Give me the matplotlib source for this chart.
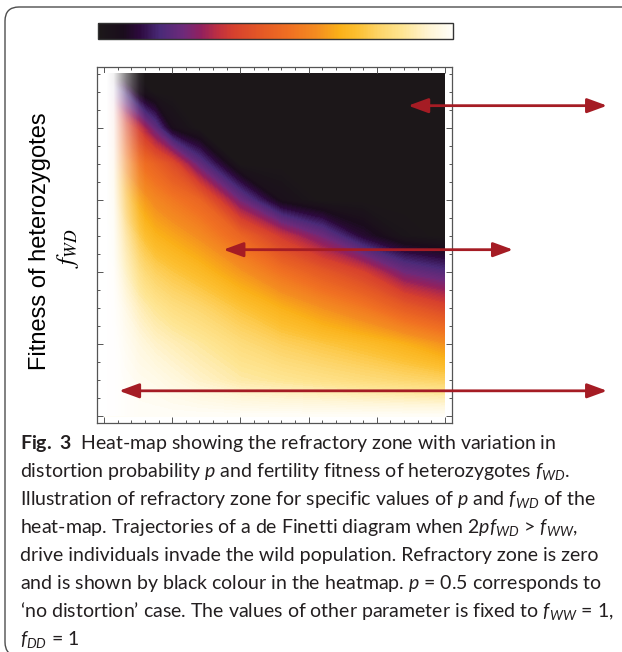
import numpy as np
import matplotlib
matplotlib.use('Agg')
import matplotlib.pyplot as plt
from matplotlib import font_manager as fm
from matplotlib.colors import LinearSegmentedColormap, Normalize
from matplotlib.cm import ScalarMappable
from matplotlib.patches import FancyBboxPatch


def pick_font(names):
    # first installed family from the list
    for n in names:
        try:
            fm.findfont(fm.FontProperties(family=n), fallback_to_default=False)
            return n
        except ValueError:
            pass
    return 'DejaVu Sans'


CAP_FONT = pick_font(['Liberation Sans Narrow', 'Lato', 'Open Sans'])
LABEL_FONT = pick_font(['Liberation Sans', 'DejaVu Sans'])

plt.rcParams['mathtext.fontset'] = 'custom'
plt.rcParams['mathtext.rm'] = CAP_FONT
plt.rcParams['mathtext.it'] = CAP_FONT + ':italic'
plt.rcParams['mathtext.bf'] = CAP_FONT + ':bold'

# distortion probability p (columns) and fitness of heterozygotes f_WD (rows)
p_vals = [0.0, 0.015, 0.03, 0.05, 0.075, 0.1, 0.14, 0.2, 0.26, 0.32, 0.38, 0.44, 0.5]
f_vals = [0.0, 0.5, 1.0, 1.5, 2.0, 2.5, 3.0, 3.5, 4.0, 4.5, 4.76]

# colour level read from the heat-map (0 = black / refractory zone, 1 = white)
zone = [
    [1.00, 1.00, 1.00, 1.00, 1.00, 1.00, 1.00, 1.00, 1.00, 1.00, 1.00, 1.00, 1.00],
    [1.00, 1.00, 0.99, 0.98, 0.97, 0.95, 0.92, 0.88, 0.86, 0.84, 0.82, 0.80, 0.78],
    [1.00, 0.99, 0.97, 0.95, 0.92, 0.90, 0.87, 0.82, 0.78, 0.75, 0.72, 0.68, 0.62],
    [0.97, 0.95, 0.93, 0.90, 0.86, 0.83, 0.80, 0.74, 0.68, 0.62, 0.56, 0.47, 0.40],
    [0.92, 0.90, 0.87, 0.83, 0.78, 0.75, 0.71, 0.63, 0.54, 0.46, 0.38, 0.24, 0.19],
    [0.86, 0.83, 0.79, 0.75, 0.69, 0.66, 0.61, 0.50, 0.36, 0.24, 0.10, 0.02, 0.00],
    [0.78, 0.75, 0.70, 0.66, 0.60, 0.56, 0.50, 0.24, 0.05, 0.00, 0.00, 0.00, 0.00],
    [0.66, 0.64, 0.60, 0.55, 0.49, 0.42, 0.22, 0.00, 0.00, 0.00, 0.00, 0.00, 0.00],
    [0.50, 0.48, 0.42, 0.36, 0.22, 0.06, 0.00, 0.00, 0.00, 0.00, 0.00, 0.00, 0.00],
    [0.25, 0.22, 0.16, 0.06, 0.00, 0.00, 0.00, 0.00, 0.00, 0.00, 0.00, 0.00, 0.00],
    [0.00, 0.00, 0.00, 0.00, 0.00, 0.00, 0.00, 0.00, 0.00, 0.00, 0.00, 0.00, 0.00],
]

# white wash along the p = 0 edge
fade_alpha = [1.0, 0.95, 0.7, 0.45, 0.25, 0.08, 0.0]

# arrows: tip inside the map (p, f_WD) and far end (axes fraction)
arrow_p = [0.446, 0.175, 0.022]
arrow_f = [4.31, 2.31, 0.35]
arrow_end = [1.437, 1.172, 1.437]

caption_lines = [
    r"$\mathbf{Fig.\ 3}$  Heat-map showing the refractory zone with variation in",
    r"distortion probability $p$ and fertility fitness of heterozygotes $f_{WD}$.",
    r"Illustration of refractory zone for specific values of $p$ and $f_{WD}$ of the",
    r"heat-map. Trajectories of a de Finetti diagram when 2$pf_{WD}$ > $f_{WW}$,",
    r"drive individuals invade the wild population. Refractory zone is zero",
    r"and is shown by black colour in the heatmap. $p$ = 0.5 corresponds to",
    r"‘no distortion’ case. The values of other parameter is fixed to $f_{WW}$ = 1,",
    r"$f_{DD}$ = 1",
]

cmap_pos = [0, 0.07, 0.117, 0.174, 0.24, 0.29, 0.34, 0.38, 0.465, 0.54,
            0.616, 0.68, 0.73, 0.795, 0.86, 0.93, 1.0]
cmap_col = ['#1c1819', '#1a0c1c', '#2d0a3e', '#4a2a78', '#6e2a7a', '#92205e',
            '#c0303f', '#d6402e', '#e55a25', '#f07022', '#f48c20', '#fab018',
            '#fcbf30', '#fdd56a', '#fee593', '#fff4d2', '#fffef8']
sunset = LinearSegmentedColormap.from_list('sunset', list(zip(cmap_pos, cmap_col)))

RED = '#a51c24'
GREY = '#555555'

W, H = 622, 652
fig = plt.figure(figsize=(W / 100, H / 100), dpi=100)

# heat-map
ax = fig.add_axes([97 / W, 1 - 423 / H, 355 / W, 356 / H])
ax.contourf(p_vals, f_vals, zone, levels=np.linspace(0, 1, 121), cmap=sunset, zorder=1)
fade = np.ones((1, len(fade_alpha), 4))
fade[0, :, 3] = fade_alpha
ax.imshow(fade, extent=[0, 0.065, 0, f_vals[-1]], aspect='auto', interpolation='bilinear', zorder=2)
ax.set_xlim(-0.0103, 0.5103)
ax.set_ylim(-0.097, 4.847)
ax.set_xticks(np.arange(0, 0.51, 0.1))
ax.set_xticks(np.arange(0, 0.51, 0.02), minor=True)
ax.set_yticks(np.arange(0, 4.8, 1))
ax.set_yticks(np.arange(0, 4.8, 0.25), minor=True)
ax.tick_params(which='both', direction='in', top=True, right=True, color=GREY, width=0.7,
               labelbottom=False, labelleft=False)
ax.tick_params(which='major', length=4.5)
ax.tick_params(which='minor', length=2.5)
for s in ax.spines.values():
    s.set_color(GREY)
    s.set_linewidth(0.9)

for p, f, e in zip(arrow_p, arrow_f, arrow_end):
    ax.annotate('', xy=(p, f), xycoords='data', xytext=(e, f), textcoords=('axes fraction', 'data'),
                annotation_clip=False,
                arrowprops=dict(arrowstyle='<|-|>,head_length=0.6,head_width=0.22', color=RED,
                                lw=2.0, shrinkA=0, shrinkB=0, mutation_scale=20, clip_on=False))

# colour bar on top
cax = fig.add_axes([98 / W, 1 - 39 / H, 355 / W, 16 / H])
cb = fig.colorbar(ScalarMappable(norm=Normalize(0, 1), cmap=sunset), cax=cax,
                  orientation='horizontal', ticks=[])
cb.outline.set_edgecolor('#333333')
cb.outline.set_linewidth(1.0)

# axis label
fig.text(40 / W, 1 - 241 / H, 'Fitness of heterozygotes', rotation=90, ha='center', va='center',
         fontsize=17, family=LABEL_FONT)
fig.text(68 / W, 1 - 248 / H, r'$f_{WD}$', rotation=90, ha='center', va='center',
         fontsize=18, math_fontfamily='stix')

# caption
for i, line in enumerate(caption_lines):
    fig.text(20 / W, 1 - (449 + 28.0 * i) / H, line, ha='left', va='baseline',
             fontsize=14, family=CAP_FONT, color='#231f20')

box = FancyBboxPatch((0.05, -0.04), 7.0, 6.49, boxstyle='round,pad=0,rounding_size=0.14',
                     transform=fig.dpi_scale_trans, fc='none', ec='#4d4d4d', lw=1.0)
fig.add_artist(box)

fig.savefig('out.png', dpi=100)
